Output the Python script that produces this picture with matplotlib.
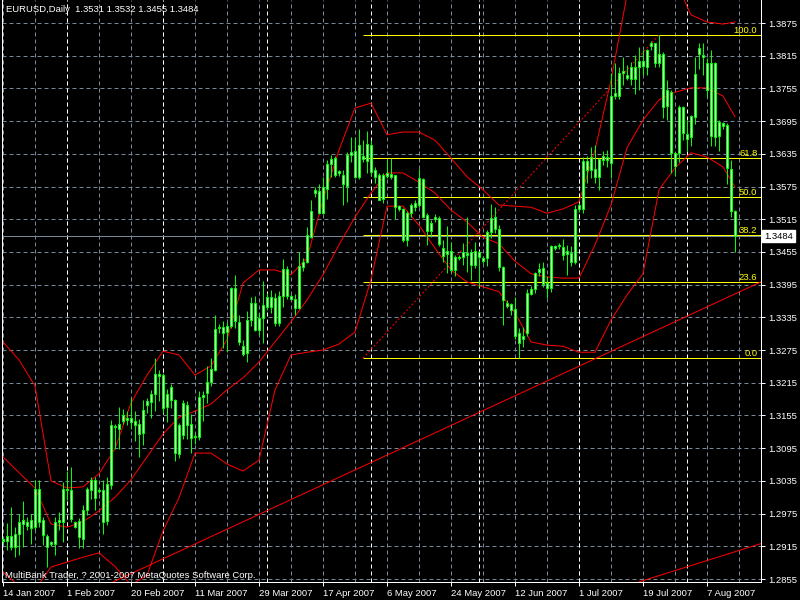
import numpy as np
import matplotlib.pyplot as plt
import matplotlib.transforms as mtransforms

plt.rcParams['font.family'] = ['Liberation Sans', 'DejaVu Sans']

# EURUSD daily candles, 14 Jan 2007 .. mid Aug 2007 (Sun-Fri bars)
opens = [1.2925, 1.2925, 1.2934, 1.2914, 1.2937, 1.2963, 1.2960, 1.2963, 1.2951, 1.3021,
         1.2963, 1.2934, 1.2920, 1.2920, 1.2960, 1.2960, 1.3021, 1.3018, 1.2960, 1.2961,
         1.2929, 1.2981, 1.3018, 1.3036, 1.3016, 1.3018, 1.2962, 1.3027, 1.3135, 1.3130,
         1.3145, 1.3151, 1.3143, 1.3145, 1.3140, 1.3123, 1.3175, 1.3179, 1.3195, 1.3232,
         1.3230, 1.3171, 1.3208, 1.3184, 1.3084, 1.3120, 1.3175, 1.3139, 1.3116, 1.3116,
         1.3189, 1.3197, 1.3216, 1.3238, 1.3315, 1.3318, 1.3308, 1.3319, 1.3389, 1.3326,
         1.3282, 1.3269, 1.3331, 1.3362, 1.3311, 1.3334, 1.3354, 1.3373, 1.3371, 1.3324,
         1.3374, 1.3424, 1.3375, 1.3369, 1.3352, 1.3427, 1.3437, 1.3483, 1.3564, 1.3567,
         1.3526, 1.3570, 1.3616, 1.3627, 1.3599, 1.3597, 1.3576, 1.3633, 1.3640, 1.3593,
         1.3631, 1.3622, 1.3651, 1.3605, 1.3596, 1.3553, 1.3594, 1.3598, 1.3596, 1.3539,
         1.3533, 1.3477, 1.3526, 1.3538, 1.3541, 1.3588, 1.3523, 1.3494, 1.3515, 1.3518,
         1.3462, 1.3451, 1.3456, 1.3422, 1.3444, 1.3445, 1.3453, 1.3454, 1.3431, 1.3454,
         1.3444, 1.3444, 1.3491, 1.3519, 1.3497, 1.3427, 1.3361, 1.3360, 1.3350, 1.3307,
         1.3296, 1.3307, 1.3378, 1.3387, 1.3418, 1.3425, 1.3398, 1.3388, 1.3465, 1.3465,
         1.3464, 1.3451, 1.3453, 1.3437, 1.3533, 1.3533, 1.3621, 1.3605, 1.3607, 1.3593,
         1.3624, 1.3629, 1.3619, 1.3741, 1.3741, 1.3783, 1.3780, 1.3773, 1.3773, 1.3794,
         1.3806, 1.3795, 1.3833, 1.3838, 1.3801, 1.3819, 1.3723, 1.3749, 1.3636, 1.3636,
         1.3720, 1.3671, 1.3665, 1.3703, 1.3818, 1.3816, 1.3801, 1.3667, 1.3801, 1.3667,
         1.3691, 1.3688, 1.3607, 1.3531]
highs = [1.2932, 1.2957, 1.2988, 1.2951, 1.2975, 1.2999, 1.2969, 1.2975, 1.3037, 1.3037,
         1.2969, 1.2938, 1.2925, 1.2969, 1.2978, 1.3033, 1.3054, 1.3060, 1.2962, 1.2966,
         1.2990, 1.3024, 1.3042, 1.3042, 1.3022, 1.3037, 1.3042, 1.3146, 1.3140, 1.3170,
         1.3167, 1.3164, 1.3187, 1.3164, 1.3149, 1.3184, 1.3187, 1.3201, 1.3261, 1.3239,
         1.3233, 1.3203, 1.3212, 1.3185, 1.3142, 1.3184, 1.3181, 1.3157, 1.3123, 1.3200,
         1.3200, 1.3245, 1.3261, 1.3340, 1.3322, 1.3328, 1.3326, 1.3391, 1.3412, 1.3340,
         1.3294, 1.3346, 1.3373, 1.3374, 1.3343, 1.3401, 1.3380, 1.3385, 1.3379, 1.3383,
         1.3442, 1.3429, 1.3378, 1.3377, 1.3455, 1.3443, 1.3501, 1.3550, 1.3575, 1.3580,
         1.3593, 1.3624, 1.3633, 1.3631, 1.3606, 1.3605, 1.3639, 1.3666, 1.3666, 1.3680,
         1.3660, 1.3677, 1.3661, 1.3611, 1.3600, 1.3600, 1.3624, 1.3627, 1.3596, 1.3542,
         1.3535, 1.3531, 1.3544, 1.3550, 1.3608, 1.3590, 1.3526, 1.3513, 1.3524, 1.3521,
         1.3476, 1.3502, 1.3474, 1.3450, 1.3450, 1.3471, 1.3520, 1.3460, 1.3474, 1.3456,
         1.3447, 1.3495, 1.3543, 1.3537, 1.3505, 1.3429, 1.3366, 1.3362, 1.3373, 1.3315,
         1.3318, 1.3387, 1.3392, 1.3419, 1.3434, 1.3436, 1.3410, 1.3468, 1.3468, 1.3471,
         1.3478, 1.3468, 1.3465, 1.3541, 1.3545, 1.3630, 1.3631, 1.3648, 1.3651, 1.3627,
         1.3641, 1.3642, 1.3783, 1.3801, 1.3795, 1.3813, 1.3798, 1.3804, 1.3816, 1.3831,
         1.3825, 1.3828, 1.3842, 1.3839, 1.3853, 1.3822, 1.3770, 1.3752, 1.3639, 1.3725,
         1.3723, 1.3697, 1.3706, 1.3813, 1.3839, 1.3838, 1.3810, 1.3825, 1.3804, 1.3697,
         1.3694, 1.3691, 1.3624, 1.3532]
lows = [1.2920, 1.2908, 1.2908, 1.2896, 1.2899, 1.2914, 1.2945, 1.2920, 1.2945, 1.2951,
        1.2917, 1.2877, 1.2916, 1.2899, 1.2945, 1.2923, 1.3000, 1.2960, 1.2948, 1.2912,
        1.2911, 1.2972, 1.3002, 1.2981, 1.3012, 1.2938, 1.2954, 1.3021, 1.3094, 1.3094,
        1.3140, 1.3137, 1.3131, 1.3109, 1.3079, 1.3100, 1.3160, 1.3151, 1.3163, 1.3181,
        1.3160, 1.3143, 1.3169, 1.3071, 1.3077, 1.3111, 1.3111, 1.3087, 1.3102, 1.3110,
        1.3145, 1.3177, 1.3209, 1.3236, 1.3306, 1.3279, 1.3271, 1.3316, 1.3316, 1.3285,
        1.3264, 1.3253, 1.3320, 1.3310, 1.3302, 1.3288, 1.3348, 1.3343, 1.3319, 1.3320,
        1.3354, 1.3368, 1.3366, 1.3340, 1.3350, 1.3420, 1.3434, 1.3480, 1.3556, 1.3525,
        1.3525, 1.3553, 1.3593, 1.3592, 1.3595, 1.3541, 1.3547, 1.3620, 1.3590, 1.3588,
        1.3620, 1.3600, 1.3595, 1.3582, 1.3550, 1.3545, 1.3590, 1.3588, 1.3515, 1.3530,
        1.3474, 1.3465, 1.3520, 1.3530, 1.3538, 1.3517, 1.3468, 1.3482, 1.3510, 1.3465,
        1.3437, 1.3416, 1.3419, 1.3410, 1.3440, 1.3431, 1.3419, 1.3404, 1.3425, 1.3390,
        1.3435, 1.3429, 1.3480, 1.3490, 1.3420, 1.3321, 1.3352, 1.3340, 1.3295, 1.3260,
        1.3280, 1.3300, 1.3376, 1.3380, 1.3410, 1.3390, 1.3370, 1.3382, 1.3458, 1.3460,
        1.3440, 1.3413, 1.3429, 1.3432, 1.3528, 1.3526, 1.3581, 1.3590, 1.3581, 1.3569,
        1.3614, 1.3611, 1.3590, 1.3735, 1.3735, 1.3761, 1.3770, 1.3761, 1.3745, 1.3752,
        1.3780, 1.3780, 1.3825, 1.3795, 1.3795, 1.3700, 1.3697, 1.3600, 1.3595, 1.3620,
        1.3660, 1.3640, 1.3650, 1.3690, 1.3790, 1.3780, 1.3740, 1.3650, 1.3650, 1.3641,
        1.3680, 1.3580, 1.3520, 1.3455]
closes = [1.2928, 1.2934, 1.2914, 1.2937, 1.2959, 1.2956, 1.2953, 1.2948, 1.3020, 1.2960,
          1.2935, 1.2914, 1.2923, 1.2959, 1.2963, 1.3021, 1.3018, 1.2965, 1.2950, 1.2932,
          1.2982, 1.3021, 1.3036, 1.3003, 1.3018, 1.2960, 1.3030, 1.3137, 1.3133, 1.3139,
          1.3155, 1.3146, 1.3151, 1.3137, 1.3121, 1.3165, 1.3181, 1.3195, 1.3232, 1.3227,
          1.3169, 1.3195, 1.3184, 1.3087, 1.3137, 1.3177, 1.3137, 1.3114, 1.3118, 1.3189,
          1.3193, 1.3216, 1.3241, 1.3313, 1.3317, 1.3307, 1.3319, 1.3389, 1.3328, 1.3289,
          1.3267, 1.3331, 1.3362, 1.3311, 1.3334, 1.3358, 1.3373, 1.3354, 1.3324, 1.3374,
          1.3424, 1.3374, 1.3368, 1.3352, 1.3429, 1.3437, 1.3486, 1.3530, 1.3569, 1.3527,
          1.3575, 1.3616, 1.3625, 1.3596, 1.3603, 1.3580, 1.3633, 1.3639, 1.3593, 1.3651,
          1.3625, 1.3653, 1.3602, 1.3592, 1.3551, 1.3596, 1.3599, 1.3592, 1.3538, 1.3533,
          1.3477, 1.3527, 1.3541, 1.3544, 1.3590, 1.3520, 1.3494, 1.3509, 1.3520, 1.3470,
          1.3448, 1.3456, 1.3422, 1.3445, 1.3446, 1.3454, 1.3450, 1.3431, 1.3456, 1.3445,
          1.3439, 1.3491, 1.3517, 1.3497, 1.3427, 1.3366, 1.3356, 1.3349, 1.3300, 1.3288,
          1.3300, 1.3379, 1.3387, 1.3416, 1.3423, 1.3396, 1.3388, 1.3466, 1.3462, 1.3467,
          1.3450, 1.3456, 1.3437, 1.3533, 1.3542, 1.3621, 1.3605, 1.3630, 1.3593, 1.3625,
          1.3631, 1.3623, 1.3741, 1.3747, 1.3783, 1.3787, 1.3775, 1.3795, 1.3794, 1.3806,
          1.3796, 1.3825, 1.3839, 1.3801, 1.3819, 1.3720, 1.3752, 1.3636, 1.3612, 1.3720,
          1.3673, 1.3663, 1.3704, 1.3781, 1.3830, 1.3812, 1.3753, 1.3801, 1.3665, 1.3694,
          1.3686, 1.3609, 1.3530, 1.3484]

# Bollinger bands every 4th bar
band_bars = [0, 4, 8, 12, 16, 20, 24, 28, 32, 36, 40, 44, 48, 52, 56, 60, 64, 68, 72, 76,
             80, 84, 88, 92, 96, 100, 104, 108, 112, 116, 120, 124, 128, 132, 136, 140,
             144, 148, 152, 156, 160, 164, 168, 172, 176, 180, 183]
bb_upper = [1.3290, 1.3257, 1.3209, 1.3035, 1.3022, 1.3024, 1.3048, 1.3094, 1.3178, 1.3229,
            1.3273, 1.3266, 1.3229, 1.3246, 1.3294, 1.3398, 1.3422, 1.3422, 1.3413, 1.3444,
            1.3550, 1.3642, 1.3719, 1.3728, 1.3670, 1.3675, 1.3675, 1.3660, 1.3627, 1.3593,
            1.3569, 1.3541, 1.3539, 1.3537, 1.3526, 1.3534, 1.3547, 1.3642, 1.3770, 1.3926,
            1.3972, 1.3981, 1.3954, 1.3890, 1.3877, 1.3873, 1.3877]
bb_middle = [1.3079, 1.3050, 1.3022, 1.2956, 1.2950, 1.2960, 1.2980, 1.3005, 1.3037, 1.3079,
             1.3121, 1.3152, 1.3163, 1.3176, 1.3202, 1.3224, 1.3253, 1.3290, 1.3327, 1.3367,
             1.3413, 1.3468, 1.3519, 1.3563, 1.3600, 1.3600, 1.3583, 1.3563, 1.3532, 1.3510,
             1.3482, 1.3470, 1.3438, 1.3415, 1.3409, 1.3407, 1.3407, 1.3468, 1.3541, 1.3646,
             1.3697, 1.3734, 1.3748, 1.3756, 1.3756, 1.3741, 1.3703]
bb_lower = [1.2868, 1.2842, 1.2835, 1.2877, 1.2886, 1.2895, 1.2903, 1.2878, 1.2844, 1.2862,
            1.2943, 1.3004, 1.3086, 1.3086, 1.3066, 1.3053, 1.3073, 1.3202, 1.3266, 1.3271,
            1.3275, 1.3286, 1.3308, 1.3404, 1.3539, 1.3539, 1.3504, 1.3462, 1.3422, 1.3400,
            1.3391, 1.3382, 1.3343, 1.3290, 1.3284, 1.3282, 1.3271, 1.3271, 1.3330, 1.3376,
            1.3415, 1.3569, 1.3609, 1.3637, 1.3629, 1.3611, 1.3574]

date_bars = [0, 16, 32, 48, 64, 80, 96, 112, 128, 144, 160, 176]
date_labels = ['14 Jan 2007', '1 Feb 2007', '20 Feb 2007', '11 Mar 2007', '29 Mar 2007',
               '17 Apr 2007', '6 May 2007', '24 May 2007', '12 Jun 2007', '1 Jul 2007',
               '19 Jul 2007', '7 Aug 2007']
separator_bars = [16, 40, 66, 92, 119, 144, 171]
price_ticks = [1.2855, 1.2915, 1.2975, 1.3035, 1.3095, 1.3155, 1.3215, 1.3275, 1.3335,
               1.3395, 1.3455, 1.3515, 1.3575, 1.3635, 1.3695, 1.3755, 1.3815, 1.3875]

fib_bars = [90, 164]
fib_prices = [1.3260, 1.3853]
fib_levels = [0.0, 23.6, 38.2, 50.0, 61.8, 100.0]
trend_a = [(40, 1.2892), (183, 1.3378)]
trend_b = [(160, 1.2852), (183, 1.2905)]

grid_c = '#778899'
lime = '#00ff00'
px = 0.72

fig = plt.figure(figsize=(8, 6), dpi=100, facecolor='black')
ax = fig.add_axes([2 / 800, 18 / 600, 759 / 800, 582 / 600], facecolor='black')
ax.set_xlim(-0.25, 189.5)
ax.set_ylim(1.28495, 1.39172)

for p in price_ticks:
    ax.axhline(p, color=grid_c, lw=px, ls=(0, (4, 3)), zorder=0)
for b in range(0, 190, 8):
    ax.axvline(b, color=grid_c, lw=px, ls=(0, (4, 3)), zorder=0)
for b in separator_bars:
    ax.axvline(b, color='white', lw=px, ls=(0, (4, 3)), zorder=0.5)

# current price line
ax.axhline(closes[-1], color=grid_c, lw=px, zorder=1)

# fibonacci
lo, hi = fib_prices
for lv in fib_levels:
    p = lo + (hi - lo) * lv / 100
    ax.hlines(p, fib_bars[0], 189.5, color='#ffff00', lw=px, zorder=2)
    ax.text(188.6, p, f'{lv:.1f}', color='#ffff00', fontsize=6.8,
            ha='right', va='bottom', zorder=5)
ax.plot(fib_bars, fib_prices, color='red', lw=px, ls=(0, (2, 2)), zorder=2)

# trend lines
ax.axline(*trend_a, color='red', lw=px, zorder=2)
ax.axline(*trend_b, color='red', lw=px, zorder=2)

# bollinger bands
for band in (bb_upper, bb_middle, bb_lower):
    ax.plot(band_bars, band, color='red', lw=px, zorder=2)

# candles
bars = np.arange(len(closes))
o = np.array(opens)
c = np.array(closes)
ax.vlines(bars, lows, highs, color=lime, lw=px, zorder=3)
bottoms = np.minimum(o, c)
heights = np.maximum(np.abs(c - o), 0.00005)
ax.bar(bars, heights, bottom=bottoms, width=0.5, color='#c8ffc8',
       edgecolor=lime, linewidth=px, zorder=4)

for s in ['left', 'bottom', 'right']:
    ax.spines[s].set_color('white')
    ax.spines[s].set_linewidth(px)
ax.spines['top'].set_visible(False)

ax.yaxis.tick_right()
ax.set_yticks(price_ticks)
ax.set_yticklabels([f'{p:.4f}' for p in price_ticks])
ax.set_xticks(date_bars)
ax.set_xticklabels(date_labels)
ax.tick_params(colors='white', labelsize=6.8, length=3, width=px, direction='out', pad=2)
for lab in ax.get_xticklabels():
    lab.set_horizontalalignment('left')

blend = mtransforms.blended_transform_factory(ax.transAxes, ax.transData)
ax.text(1.004, closes[-1], f'{closes[-1]:.4f}', transform=blend, color='black',
        fontsize=6.8, ha='left', va='center',
        bbox=dict(facecolor='white', edgecolor='white', pad=1.2), zorder=6)

fig.text(6 / 800, 1 - 10 / 600,
         f'EURUSD,Daily  {opens[-1]:.4f} {highs[-1]:.4f} {lows[-1]:.4f} {closes[-1]:.4f}',
         color='white', fontsize=6.8, va='center')
fig.text(5 / 800, 1 - 575 / 600, 'MultiBank Trader, ? 2001-2007 MetaQuotes Software Corp.',
         color='white', fontsize=6.8, va='center')

fig.savefig('out.png', dpi=100, facecolor='black')
